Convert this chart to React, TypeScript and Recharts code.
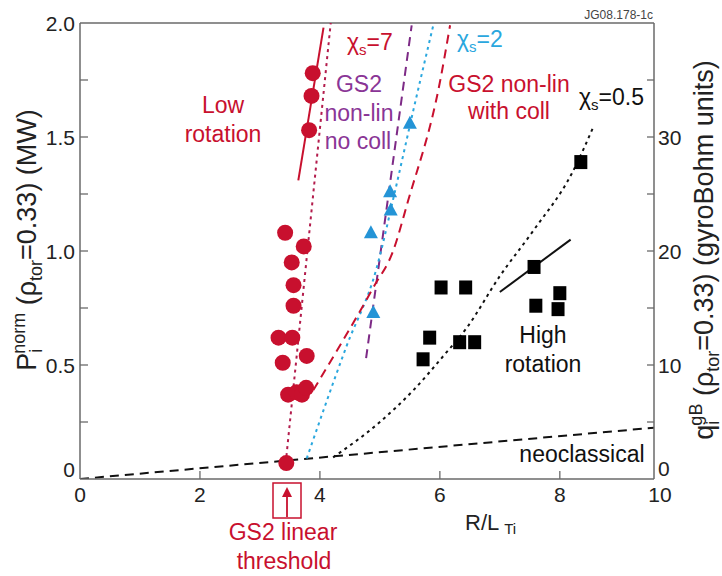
import React from 'react'
import { ComposedChart, XAxis, YAxis, Scatter, Line, ReferenceLine } from 'recharts'

const FONT = '"Liberation Sans", Arial, Helvetica, sans-serif'
const AXIS = '#6a6a6a'
const RED = '#c8102e'
const RED_DOT = '#b31c4c'
const PURPLE = '#7d2a86'
const CYAN = '#2aa7de'
const BLUE = '#2494d6'

// x axis stops a little short of 10 in the original figure; its last label still reads "10"
const X_MAX = 9.57
const xTicks = [0, 2, 4, 6, 8, X_MAX]
const pTicks = [0, 0.25, 0.5, 0.75, 1, 1.25, 1.5, 1.75, 2]
const qTicks = [0, 5, 10, 15, 20, 25, 30, 35, 40]

// measured points [R/L_Ti, P_i norm (MW)]
const lowRotation: [number, number][] = [
  [3.88, 1.78], [3.86, 1.68], [3.82, 1.53],
  [3.42, 1.08], [3.73, 1.02], [3.53, 0.95], [3.56, 0.85], [3.56, 0.76],
  [3.31, 0.62], [3.54, 0.62], [3.78, 0.54], [3.38, 0.51],
  [3.47, 0.37], [3.61, 0.38], [3.7, 0.37], [3.77, 0.4], [3.44, 0.07],
]
const gs2Runs: [number, number][] = [
  [5.5, 1.56], [5.17, 1.26], [5.18, 1.18], [4.85, 1.08], [4.89, 0.73],
]
const highRotation: [number, number][] = [
  [6.02, 0.84], [6.43, 0.84], [5.83, 0.62], [5.72, 0.525], [6.33, 0.6], [6.58, 0.6],
  [7.57, 0.93], [7.6, 0.76], [8.0, 0.815], [7.97, 0.745], [8.35, 1.39],
]

// fitted / model curves
const neoclassical: [number, number][] = [[0, 0], [9.57, 0.225]]
const chi05: [number, number][] = [
  [4.22, 0.095], [5.0, 0.25], [5.56, 0.39], [6.06, 0.54], [6.44, 0.66],
  [7.0, 0.89], [7.56, 1.09], [8.2, 1.34], [8.56, 1.545],
]
const highRotFit: [number, number][] = [[7.0, 0.82], [8.18, 1.05]]
const lowRotFit: [number, number][] = [[3.64, 1.31], [4.06, 1.98]]
const chi7: [number, number][] = [[3.43, 0.07], [4.18, 2.0]]
const gs2NoColl: [number, number][] = [[4.77, 0.53], [5.53, 1.99]]
const chi2: [number, number][] = [
  [3.78, 0.09], [4.44, 0.58], [4.94, 0.92], [5.25, 1.26], [5.56, 1.62], [5.89, 1.99],
]
const gs2WithColl: [number, number][] = [
  [3.89, 0.39], [4.89, 0.84], [5.22, 1.0], [5.47, 1.22], [6.0, 1.74], [6.17, 1.99],
]

const pts = (arr: [number, number][]) => arr.map(([x, y]) => ({ x, y }))

const Dot = (p: any) => <circle cx={p.cx} cy={p.cy} r={8} fill={RED} />
const Tri = (p: any) => (
  <polygon
    points={`${p.cx},${p.cy - 7.5} ${p.cx - 7},${p.cy + 5.5} ${p.cx + 7},${p.cy + 5.5}`}
    fill={BLUE}
  />
)
const Sq = (p: any) => <rect x={p.cx - 6.5} y={p.cy - 7} width={13} height={14} fill="#000" />

const tickText = { fontFamily: FONT, fontSize: 21, fill: '#222' }

function LeftTick(props: any) {
  const { x, y, payload } = props
  const ax = x + 5
  const v = payload.value
  const major = Math.abs(v * 2 - Math.round(v * 2)) < 1e-6
  return (
    <g>
      {v > 0 && v < 2 && <line x1={ax} x2={ax + 8} y1={y} y2={y} stroke={AXIS} strokeWidth={1.3} />}
      {major && (
        <text x={x} y={y} dy={v === 0 ? '-0.1em' : '0.36em'} textAnchor="end" {...tickText}>
          {v === 0 ? '0' : v.toFixed(1)}
        </text>
      )}
    </g>
  )
}

function RightTick(props: any) {
  const { x, y, payload } = props
  const ax = x - 4
  const v = payload.value
  return (
    <g>
      {v > 0 && v < 40 && <line x1={ax} x2={ax - 7} y1={y} y2={y} stroke={AXIS} strokeWidth={1.3} />}
      {v % 10 === 0 && v < 40 && (
        <text x={x} y={y} dy={v === 0 ? '-0.15em' : '0.36em'} textAnchor="start" {...tickText}>
          {v}
        </text>
      )}
    </g>
  )
}

function BottomTick(props: any) {
  const { x, y, payload } = props
  const ay = y - 7
  const v = payload.value
  const last = v > 9
  return (
    <g>
      {v > 0 && !last && <line x1={x} x2={x} y1={ay} y2={ay - 8} stroke={AXIS} strokeWidth={1.3} />}
      <text x={last ? x + 6 : x} y={y} dy="0.74em" textAnchor="middle" {...tickText}>
        {last ? '10' : v}
      </text>
    </g>
  )
}

const ann = { fontFamily: FONT, fontSize: 23 }

function Chi({ x, y, sub, color }: { x: number; y: number; sub: string; color: string }) {
  return (
    <text x={x} y={y} fill={color} {...ann}>
      χ<tspan fontSize={15} dy={5}>s</tspan>
      <tspan dy={-5}>={sub}</tspan>
    </text>
  )
}

function Overlay() {
  return (
    <svg
      width={722}
      height={576}
      style={{ position: 'absolute', left: 0, top: 0, pointerEvents: 'none' }}
    >
      <text x={653} y={19} textAnchor="end" fontFamily={FONT} fontSize={12} fill="#444">
        JG08.178-1c
      </text>

      <Chi x={347} y={50} sub="7" color={RED} />
      <Chi x={457} y={47} sub="2" color={CYAN} />
      <Chi x={579} y={105} sub="0.5" color="#111" />

      <g fill="#8a3596" textAnchor="middle" {...ann}>
        <text x={359} y={92}>GS2</text>
        <text x={359} y={121}>non-lin</text>
        <text x={358} y={149}>no coll</text>
      </g>
      <g fill={RED} textAnchor="middle" {...ann}>
        <text x={223} y={113}>Low</text>
        <text x={223} y={142}>rotation</text>
        <text x={509} y={92}>GS2 non-lin</text>
        <text x={509} y={119}>with coll</text>
        <text x={283} y={540}>GS2 linear</text>
        <text x={284} y={569}>threshold</text>
      </g>
      <g fill="#111" textAnchor="middle" {...ann}>
        <text x={543} y={343}>High</text>
        <text x={543} y={372}>rotation</text>
        <text x={582} y={462}>neoclassical</text>
      </g>

      <rect x={273} y={483} width={28} height={35} fill="none" stroke={RED} strokeWidth={1.5} />
      <line x1={287} x2={287} y1={517} y2={494} stroke={RED} strokeWidth={1.8} />
      <polygon points="287,487 282,497 292,497" fill={RED} />

      <text x={465} y={530} fontFamily={FONT} fontSize={22} fill="#222">
        R/L<tspan fontSize={15} dx={5} dy={4}>Ti</tspan>
      </text>

      <text
        transform="translate(36,240) rotate(-90)"
        textAnchor="middle"
        fontFamily={FONT}
        fontSize={27}
        fill="#222"
      >
        P<tspan fontSize={18} dy={6}>i</tspan>
        <tspan fontSize={18} dx={-5} dy={-17}>norm</tspan>
        <tspan dy={11}> (ρ</tspan>
        <tspan fontSize={18} dy={6}>tor</tspan>
        <tspan dy={-6}>=0.33) (MW)</tspan>
      </text>

      <text
        transform="translate(713,250) rotate(-90)"
        textAnchor="middle"
        fontFamily={FONT}
        fontSize={27}
        fill="#222"
      >
        q<tspan fontSize={18} dy={6}>i</tspan>
        <tspan fontSize={18} dx={-5} dy={-17}>gB</tspan>
        <tspan dy={11}> (ρ</tspan>
        <tspan fontSize={18} dy={6}>tor</tspan>
        <tspan dy={-6}>=0.33) (gyroBohm units)</tspan>
      </text>
    </svg>
  )
}

export default function App() {
  const axisLine = { stroke: AXIS, strokeWidth: 1.5 }
  return (
    <div style={{ position: 'absolute', left: 0, top: 0, width: 722, height: 576, background: '#fff' }}>
      <ComposedChart width={722} height={576} margin={{ top: 23, right: 8, bottom: 67, left: 20 }}>
        <XAxis
          type="number"
          dataKey="x"
          domain={[0, X_MAX]}
          ticks={xTicks}
          interval={0}
          allowDataOverflow
          height={30}
          tickSize={0}
          tickMargin={7}
          tickLine={false}
          axisLine={axisLine}
          tick={<BottomTick />}
        />
        <YAxis
          yAxisId="l"
          type="number"
          dataKey="y"
          domain={[0, 2]}
          ticks={pTicks}
          interval={0}
          allowDataOverflow
          width={60}
          tickSize={0}
          tickMargin={5}
          tickLine={false}
          axisLine={axisLine}
          tick={<LeftTick />}
        />
        <YAxis
          yAxisId="r"
          orientation="right"
          type="number"
          domain={[0, 40]}
          ticks={qTicks}
          interval={0}
          allowDataOverflow
          width={60}
          tickSize={0}
          tickMargin={4}
          tickLine={false}
          axisLine={axisLine}
          tick={<RightTick />}
        />
        <ReferenceLine yAxisId="l" y={2} stroke={AXIS} strokeWidth={1.5} />

        <Line yAxisId="l" data={pts(neoclassical)} dataKey="y" type="linear" stroke="#111" strokeWidth={2} strokeDasharray="9 6" dot={false} activeDot={false} isAnimationActive={false} />
        <Line yAxisId="l" data={pts(chi05)} dataKey="y" type="monotone" stroke="#111" strokeWidth={2} strokeDasharray="3 4" dot={false} activeDot={false} isAnimationActive={false} />
        <Line yAxisId="l" data={pts(highRotFit)} dataKey="y" type="linear" stroke="#111" strokeWidth={2} dot={false} activeDot={false} isAnimationActive={false} />
        <Line yAxisId="l" data={pts(lowRotFit)} dataKey="y" type="linear" stroke={RED} strokeWidth={2} dot={false} activeDot={false} isAnimationActive={false} />
        <Line yAxisId="l" data={pts(chi7)} dataKey="y" type="linear" stroke={RED_DOT} strokeWidth={2} strokeDasharray="3 4" dot={false} activeDot={false} isAnimationActive={false} />
        <Line yAxisId="l" data={pts(gs2NoColl)} dataKey="y" type="linear" stroke={PURPLE} strokeWidth={2} strokeDasharray="9 6" dot={false} activeDot={false} isAnimationActive={false} />
        <Line yAxisId="l" data={pts(chi2)} dataKey="y" type="monotone" stroke={CYAN} strokeWidth={2} strokeDasharray="3 4" dot={false} activeDot={false} isAnimationActive={false} />
        <Line yAxisId="l" data={pts(gs2WithColl)} dataKey="y" type="monotone" stroke={RED} strokeWidth={2} strokeDasharray="9 6" dot={false} activeDot={false} isAnimationActive={false} />

        <Scatter yAxisId="l" data={pts(lowRotation)} shape={Dot} isAnimationActive={false} />
        <Scatter yAxisId="l" data={pts(gs2Runs)} shape={Tri} isAnimationActive={false} />
        <Scatter yAxisId="l" data={pts(highRotation)} shape={Sq} isAnimationActive={false} />
      </ComposedChart>
      <Overlay />
    </div>
  )
}
